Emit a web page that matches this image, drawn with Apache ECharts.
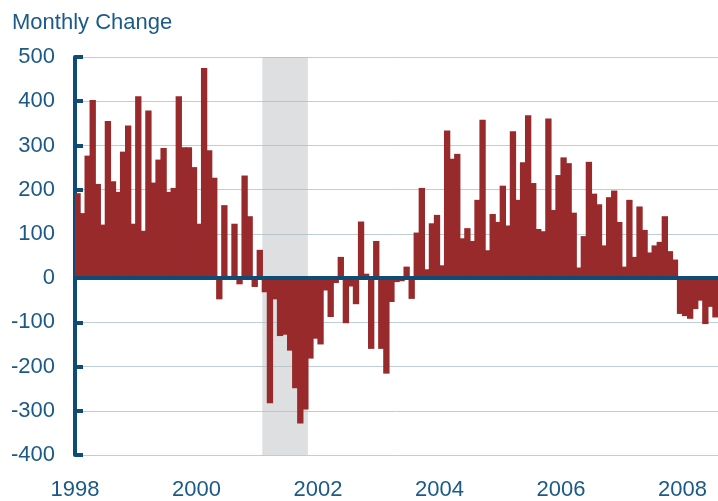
<!DOCTYPE html>
<html>
<head>
<meta charset="utf-8">
<script src="https://cdn.jsdelivr.net/npm/echarts@6/dist/echarts.min.js"></script>
<style>
  html, body { margin: 0; padding: 0; background: #fff; }
  #chart { width: 718px; height: 501px; }
</style>
</head>
<body>
<div id="chart"></div>
<script>
// monthly change in payrolls, thousands, Jan 1998 - Jul 2008
var values1998 = [192, 147, 277, 403, 213, 121, 355, 219, 195, 286, 345, 123];
var values1999 = [411, 107, 379, 216, 268, 294, 195, 204, 411, 296, 296, 251];
var values2000 = [123, 475, 289, 227, -48, 165, 5, 123, -14, 232, 140, -20];
var values2001 = [64, -32, -283, -48, -131, -128, -164, -249, -329, -297, -182, -137];
var values2002 = [-150, -28, -88, -11, 48, -102, -19, -59, 128, 10, -160, 84];
var values2003 = [-160, -216, -54, -9, -7, 26, -47, 103, 204, 20, 124, 143];
var values2004 = [29, 334, 270, 281, 90, 113, 84, 177, 358, 63, 145, 127];
var values2005 = [209, 119, 332, 177, 262, 368, 215, 111, 106, 361, 154, 233];
var values2006 = [273, 260, 148, 24, 95, 263, 191, 167, 74, 183, 198, 127];
var values2007 = [26, 177, 48, 162, 109, 58, 74, 82, 140, 61, 42, -81];
var values2008 = [-86, -92, -70, -51, -104, -65, -89];

var changes = [].concat(values1998, values1999, values2000, values2001, values2002,
  values2003, values2004, values2005, values2006, values2007, values2008);

var firstYear = 1998;
var months = [];
for (var i = 0; i < changes.length; i++) {
  var y = firstYear + Math.floor(i / 12), m = (i % 12) + 1;
  months.push(y + '-' + (m < 10 ? '0' + m : m));
}
var yearTicks = [1998, 2000, 2002, 2004, 2006, 2008];
var yTicks = [-400, -300, -200, -100, 0, 100, 200, 300, 400, 500];
var recession = ['2001-02', '2001-10'];

var navy = '#0E4C75';
var textBlue = '#1B5A86';
var barRed = '#982A2C';

var yMin = yTicks[0], yMax = yTicks[yTicks.length - 1];

var chart = echarts.init(document.getElementById('chart'));
chart.setOption({
  animation: false,
  textStyle: { fontFamily: 'Liberation Sans, Arial, sans-serif' },
  title: {
    text: 'Monthly Change',
    left: 7, top: 7,
    textStyle: { color: textBlue, fontSize: 22, fontWeight: 'normal', fontFamily: 'Liberation Sans, Arial, sans-serif' }
  },
  grid: { left: 75, right: -4, top: 57, bottom: 45, containLabel: false },
  xAxis: [{
    type: 'category',
    data: months,
    boundaryGap: true,
    axisLine: { onZero: true, lineStyle: { color: navy, width: 4 } },
    axisTick: { show: false },
    axisLabel: { show: false },
    splitLine: { show: false },
    z: 5
  }, {
    type: 'value',
    position: 'bottom',
    min: firstYear,
    max: firstYear + changes.length / 12,
    interval: 2,
    axisLine: { show: false },
    axisTick: { show: false },
    splitLine: { show: false },
    axisLabel: {
      showMaxLabel: false,
      margin: 24,
      color: textBlue, fontSize: 22,
      formatter: function (v) { return yearTicks.indexOf(v) >= 0 ? String(v) : ''; }
    }
  }],
  yAxis: {
    type: 'value',
    min: yMin, max: yMax, interval: 100,
    axisLine: { show: true, lineStyle: { color: navy, width: 4 } },
    axisTick: { show: true, inside: true, length: 8, lineStyle: { color: navy, width: 4 } },
    axisLabel: { color: textBlue, fontSize: 22, margin: 20 },
    splitLine: { lineStyle: { color: '#BDCEDA', width: 1 } }
  },
  series: [{
    name: 'recession', type: 'custom', silent: true, z: 1,
    data: [[months.indexOf(recession[0]), months.indexOf(recession[1])]],
    encode: { x: [0, 1] },
    renderItem: function (params, api) {
      var band = api.size([1, 0])[0];
      var p0 = api.coord([api.value(0), yMax]);
      var p1 = api.coord([api.value(1), yMin]);
      return {
        type: 'rect',
        shape: { x: p0[0] - band / 2, y: p0[1], width: p1[0] - p0[0] + band, height: p1[1] - p0[1] },
        style: { fill: 'rgba(180,183,188,0.45)' }
      };
    }
  }, {
    name: 'change', type: 'bar', data: changes, z: 2,
    barWidth: '125%',
    itemStyle: { color: barRed }
  }]
});
</script>
</body>
</html>
